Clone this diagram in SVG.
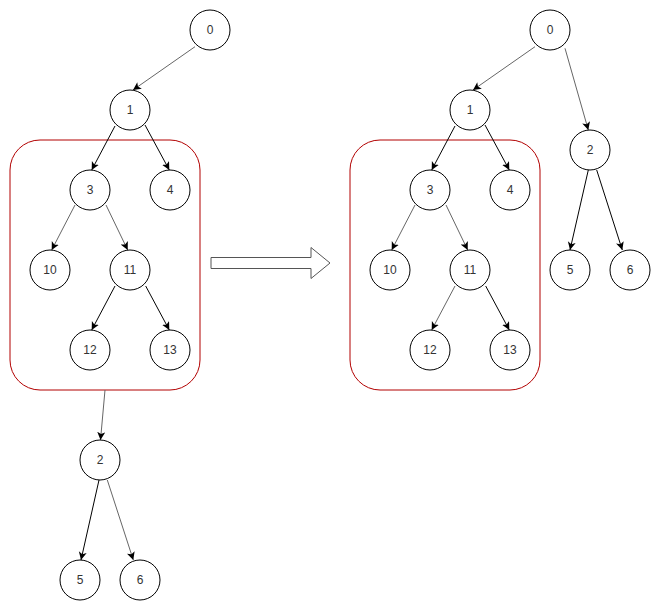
<svg xmlns="http://www.w3.org/2000/svg" width="661" height="612" viewBox="0 0 661 612">
<style>
.n circle{fill:#fff;stroke:#000;stroke-width:1}
.n text{font-family:"Liberation Sans",Arial,sans-serif;font-size:12px;fill:#333;text-anchor:middle;dominant-baseline:central}
.e line{stroke-width:1;fill:none;marker-end:url(#ah)}
.k{stroke:#000}
.g{stroke:#666}
.box{fill:none;stroke:#b20000;stroke-width:1}
</style>
<defs>
<marker id="ah" markerUnits="userSpaceOnUse" markerWidth="9" markerHeight="9" refX="8" refY="4" orient="auto">
<path d="M0,0 L8,4 L0,8 L2,4 z" fill="#000"/>
</marker>
</defs>
<rect width="661" height="612" fill="#fff"/>
<g id="groups">
<rect id="box-left" class="box" x="10" y="140" width="190" height="250" rx="30" ry="30"/>
<rect id="box-right" class="box" x="350" y="140" width="190" height="250" rx="30" ry="30"/>
</g>
<g id="big-arrow">
<path d="M211,257.5 L311,257.5 L311,247.5 L330,263 L311,278.5 L311,268.5 L211,268.5 Z" fill="#fff" stroke="#555" stroke-width="1"/>
</g>
<g id="connectors" class="e">
<line class="g" x1="195" y1="46.7" x2="133" y2="90"/>
<line class="k" x1="115" y1="126" x2="91.7" y2="170"/>
<line class="k" x1="145" y1="125" x2="169.3" y2="170"/>
<line class="g" x1="75" y1="205" x2="51.7" y2="250"/>
<line class="g" x1="106" y1="205" x2="127.7" y2="250"/>
<line class="k" x1="115" y1="286" x2="91.7" y2="330"/>
<line class="k" x1="145.7" y1="286" x2="169.3" y2="330"/>
<line class="g" x1="105" y1="390" x2="100.5" y2="440"/>
<line class="k" x1="99" y1="480" x2="81" y2="560"/>
<line class="g" x1="107.3" y1="480" x2="133.3" y2="560"/>
<line class="g" x1="535" y1="46.7" x2="473" y2="90"/>
<line class="g" x1="565" y1="48.3" x2="588.3" y2="130"/>
<line class="k" x1="455" y1="126" x2="431.7" y2="170"/>
<line class="k" x1="485" y1="125" x2="509.3" y2="170"/>
<line class="g" x1="415" y1="205" x2="391.7" y2="250"/>
<line class="g" x1="446" y1="205" x2="467.7" y2="250"/>
<line class="g" x1="455" y1="286" x2="431.7" y2="330"/>
<line class="k" x1="485.7" y1="286" x2="509.3" y2="330"/>
<line class="k" x1="588.3" y1="170" x2="570" y2="250"/>
<line class="k" x1="596.7" y1="170" x2="622.3" y2="250"/>
</g>
<g id="L0" class="n"><circle cx="210" cy="30" r="20"/><text x="210" y="30">0</text></g>
<g id="L1" class="n"><circle cx="130" cy="110" r="20"/><text x="130" y="110">1</text></g>
<g id="L3" class="n"><circle cx="90" cy="190" r="20"/><text x="90" y="190">3</text></g>
<g id="L4" class="n"><circle cx="170" cy="190" r="20"/><text x="170" y="190">4</text></g>
<g id="L10" class="n"><circle cx="50" cy="270" r="20"/><text x="50" y="270">10</text></g>
<g id="L11" class="n"><circle cx="130" cy="270" r="20"/><text x="130" y="270">11</text></g>
<g id="L12" class="n"><circle cx="90" cy="350" r="20"/><text x="90" y="350">12</text></g>
<g id="L13" class="n"><circle cx="170" cy="350" r="20"/><text x="170" y="350">13</text></g>
<g id="L2" class="n"><circle cx="100" cy="460" r="20"/><text x="100" y="460">2</text></g>
<g id="L5" class="n"><circle cx="80" cy="580" r="20"/><text x="80" y="580">5</text></g>
<g id="L6" class="n"><circle cx="140" cy="580" r="20"/><text x="140" y="580">6</text></g>
<g id="R0" class="n"><circle cx="550" cy="30" r="20"/><text x="550" y="30">0</text></g>
<g id="R1" class="n"><circle cx="470" cy="110" r="20"/><text x="470" y="110">1</text></g>
<g id="R2" class="n"><circle cx="590" cy="150" r="20"/><text x="590" y="150">2</text></g>
<g id="R3" class="n"><circle cx="430" cy="190" r="20"/><text x="430" y="190">3</text></g>
<g id="R4" class="n"><circle cx="510" cy="190" r="20"/><text x="510" y="190">4</text></g>
<g id="R10" class="n"><circle cx="390" cy="270" r="20"/><text x="390" y="270">10</text></g>
<g id="R11" class="n"><circle cx="470" cy="270" r="20"/><text x="470" y="270">11</text></g>
<g id="R12" class="n"><circle cx="430" cy="350" r="20"/><text x="430" y="350">12</text></g>
<g id="R13" class="n"><circle cx="510" cy="350" r="20"/><text x="510" y="350">13</text></g>
<g id="R5" class="n"><circle cx="570" cy="270" r="20"/><text x="570" y="270">5</text></g>
<g id="R6" class="n"><circle cx="630" cy="270" r="20"/><text x="630" y="270">6</text></g>
</svg>
